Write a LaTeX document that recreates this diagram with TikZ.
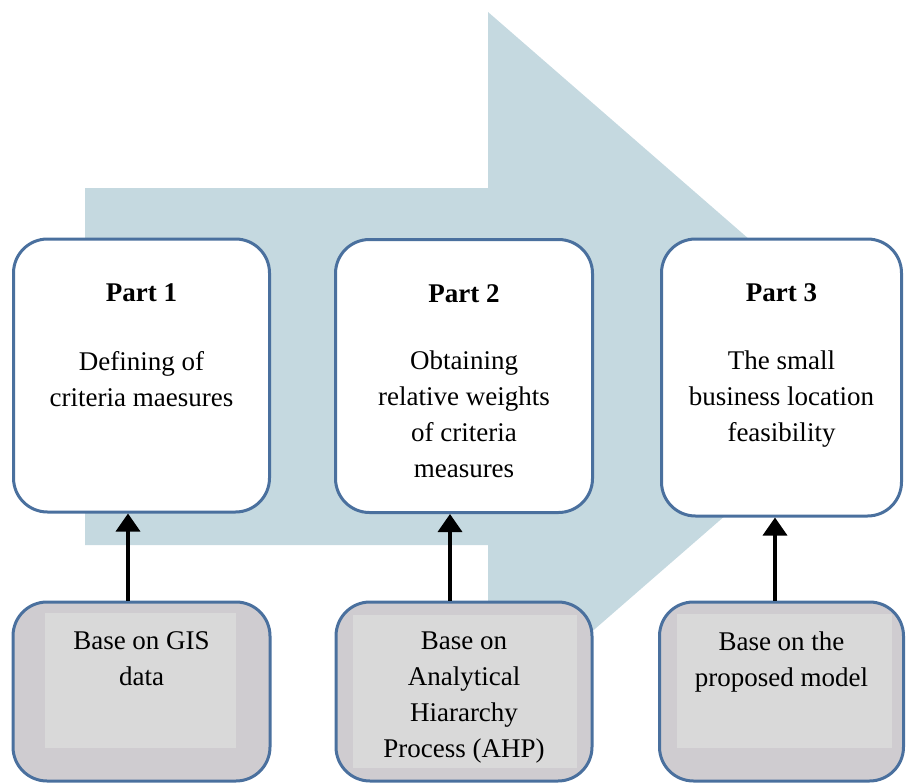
\documentclass[tikz,border=0pt]{standalone}
\usepackage{fontspec}
\setmainfont{Liberation Serif}
\usetikzlibrary{arrows.meta, positioning, calc}
\definecolor{flowblue}{RGB}{197,217,224}
\definecolor{edgeblue}{RGB}{74,112,158}
\definecolor{basegray}{RGB}{207,204,208}
\definecolor{innergray}{RGB}{217,217,217}

\begin{document}
\begin{tikzpicture}[x=1pt, y=-1pt,
  partbox/.style={draw=edgeblue, line width=3pt, rounded corners=34pt, fill=white, inner sep=0pt},
  basebox/.style={partbox, fill=basegray, minimum height=179pt},
  boxtext/.style={align=center, inner sep=0pt, font=\fontsize{27}{36}\selectfont},
  link/.style={line width=3.5pt, -{Triangle[width=24pt, length=18pt]}}
]
\useasboundingbox (0,0) rectangle (906,784);

% big process arrow behind the boxes
\fill[flowblue] (85,188) -- (488,188) -- (488,12) -- (896,367) -- (488,722) -- (488,545) -- (85,545) -- cycle;

% part boxes
\node[partbox, minimum width=256pt, minimum height=273pt] (part1) at (141.5,375.5) {};
\node[partbox, minimum width=257pt, minimum height=273pt] (part2) at (464,376) {};
\node[partbox, minimum width=240pt, minimum height=277pt] (part3) at (781.5,377.5) {};

% base boxes with their lighter inner panel
\node[basebox, minimum width=257pt] (base1) at (141.5,691.5) {};
\node[basebox, minimum width=256pt] (base2) at (464,691.5) {};
\node[basebox, minimum width=244pt] (base3) at (781.5,691.5) {};
\fill[innergray] (45,613) rectangle (236,748);
\fill[innergray] (353,615) rectangle (577,768);
\fill[innergray] (677,614) rectangle (892,748);

% texts
\node[boxtext, below=46pt of part1.north] (txt1) {\textbf{Part 1}\\[33pt]Defining of\\criteria maesures};
\node[boxtext, below=46pt of part2.north] (txt2) {\textbf{Part 2}\\[31pt]Obtaining\\relative weights\\of criteria\\measures};
\node[boxtext, below=46pt of part3.north] (txt3) {\textbf{Part 3}\\[32pt]The small\\business location\\feasibility};
\node[boxtext, below=31pt of base1.north] (src1) {Base on GIS\\data};
\node[boxtext, below=31pt of base2.north] (src2) {Base on\\Analytical\\Hiararchy\\Process (AHP)};
\node[boxtext, below=31pt of base3.north] (src3) {Base on the\\proposed model};

% inputs
\draw[link] ([xshift=-13.5pt]base1.north) -- ([xshift=-13.5pt]part1.south);
\draw[link] ([xshift=-14pt]base2.north) -- ([xshift=-14pt]part2.south);
\draw[link] ([xshift=-6.5pt]base3.north) -- ([xshift=-6.5pt]part3.south);

\end{tikzpicture}
\end{document}
